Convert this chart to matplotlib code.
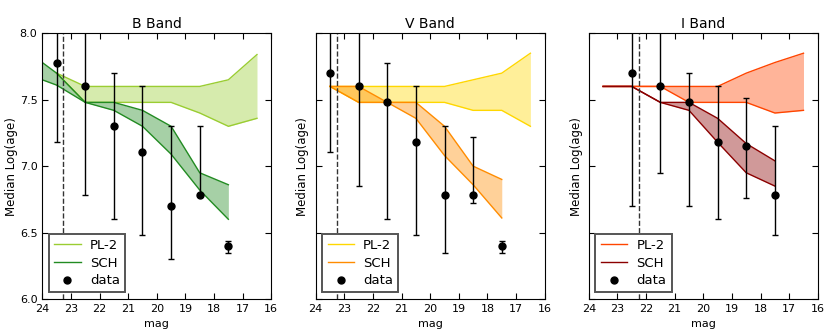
# -*- coding: utf-8 -*-
import matplotlib
matplotlib.use("Agg")
import matplotlib.pyplot as plt
import numpy as np

# magnitude bins
pl_x = [23.5, 22.5, 21.5, 20.5, 19.5, 18.5, 17.5, 16.5]
sch_x_b = [24.5, 23.5, 22.5, 21.5, 20.5, 19.5, 18.5, 17.5]
sch_x = [23.5, 22.5, 21.5, 20.5, 19.5, 18.5, 17.5]
data_x = [23.5, 22.5, 21.5, 20.5, 19.5, 18.5, 17.5]
data_x_i = [22.5, 21.5, 20.5, 19.5, 18.5, 17.5]

# B band
b_pl_hi = [7.70, 7.60, 7.60, 7.60, 7.60, 7.60, 7.65, 7.84]
b_pl_lo = [7.70, 7.48, 7.48, 7.48, 7.48, 7.40, 7.30, 7.36]
b_sch_hi = [7.86, 7.70, 7.48, 7.48, 7.42, 7.30, 6.95, 6.86]
b_sch_lo = [7.69, 7.61, 7.48, 7.42, 7.30, 7.09, 6.82, 6.60]
b_med = [7.78, 7.60, 7.30, 7.11, 6.70, 6.78, 6.40]
b_up = [8.38, 8.42, 7.70, 7.60, 7.30, 7.30, 6.44]
b_dn = [7.18, 6.78, 6.60, 6.48, 6.30, 6.78, 6.35]

# V band
v_pl_hi = [7.60, 7.60, 7.60, 7.60, 7.60, 7.65, 7.70, 7.85]
v_pl_lo = [7.60, 7.48, 7.48, 7.48, 7.48, 7.42, 7.42, 7.30]
v_sch_hi = [7.60, 7.60, 7.48, 7.48, 7.30, 7.00, 6.90]
v_sch_lo = [7.60, 7.48, 7.48, 7.36, 7.08, 6.86, 6.61]
v_med = [7.70, 7.60, 7.48, 7.18, 6.78, 6.78, 6.40]
v_up = [8.30, 8.40, 7.78, 7.60, 7.30, 7.22, 6.44]
v_dn = [7.11, 6.85, 6.60, 6.48, 6.35, 6.72, 6.35]

# I band
i_pl_hi = [7.60, 7.60, 7.60, 7.60, 7.60, 7.70, 7.78, 7.85]
i_pl_lo = [7.60, 7.60, 7.60, 7.48, 7.48, 7.48, 7.40, 7.42]
i_sch_hi = [7.60, 7.60, 7.48, 7.48, 7.36, 7.17, 7.04]
i_sch_lo = [7.60, 7.60, 7.48, 7.42, 7.18, 6.95, 6.85]
i_med = [7.70, 7.60, 7.48, 7.18, 7.15, 6.78]
i_up = [8.30, 8.40, 7.70, 7.60, 7.51, 7.30]
i_dn = [6.70, 6.95, 6.70, 6.60, 6.76, 6.48]

# completeness limits
mag_lim = [23.27, 23.27, 22.25]

plt.rcParams["xtick.direction"] = "in"
plt.rcParams["ytick.direction"] = "in"
plt.rcParams["xtick.top"] = True
plt.rcParams["ytick.right"] = True
plt.rcParams["xtick.major.size"] = 4
plt.rcParams["ytick.major.size"] = 4


def plot_band(ax, title, pl, sch, data, lim, colors, show_yticks):
    """
    Function to draw the model bands and median ages for one filter.
    """
    px, phi, plo = pl
    sx, shi, slo = sch
    dx, med, up, dn = data
    pcol, scol = colors

    ax.fill_between(px, plo, phi, color=pcol, alpha=0.4, lw=0)
    ax.plot(px, phi, color=pcol, lw=1, label="PL-2")
    ax.plot(px, plo, color=pcol, lw=1)

    ax.fill_between(sx, slo, shi, color=scol, alpha=0.4, lw=0)
    ax.plot(sx, shi, color=scol, lw=1, label="SCH")
    ax.plot(sx, slo, color=scol, lw=1)

    med = np.array(med)
    yerr = [med - np.array(dn), np.array(up) - med]
    ax.errorbar(dx, med, yerr=yerr, fmt="none", ecolor="k",
                elinewidth=1, capsize=2.5)
    ax.plot(dx, med, "o", color="k", ms=5, label="data")

    ax.axvline(lim, color="#333333", ls="--", lw=1)

    ax.set_xlim(24, 16)
    ax.set_ylim(6.0, 8.0)
    ax.set_xticks(np.arange(24, 15, -1))
    ax.set_yticks([6.0, 6.5, 7.0, 7.5, 8.0])
    ax.tick_params(labelsize=8)
    if not show_yticks:
        ax.set_yticklabels([])
    ax.set_xlabel("mag", fontsize=8)
    ax.set_ylabel("Median Log(age)", fontsize=8.5, labelpad=1)
    ax.set_title(title, fontsize=10, pad=4)
    leg = ax.legend(loc="lower left", fontsize=9.5, numpoints=1,
                    fancybox=False, framealpha=1, handlelength=2.0,
                    handletextpad=0.7, labelspacing=0.35,
                    borderaxespad=0.5)
    leg.get_frame().set_edgecolor("#555555")
    leg.get_frame().set_linewidth(1.4)
    return


fig = plt.figure(figsize=(8.3, 3.33), dpi=100)
lefts = [42.3 / 830, 315.7 / 830, 588.8 / 830]
axes = [fig.add_axes([l, 34 / 333, 229 / 830, 265.7 / 333]) for l in lefts]

plot_band(axes[0], "B Band", (pl_x, b_pl_hi, b_pl_lo),
          (sch_x_b, b_sch_hi, b_sch_lo), (data_x, b_med, b_up, b_dn),
          mag_lim[0], ("yellowgreen", "forestgreen"), True)
plot_band(axes[1], "V Band", (pl_x, v_pl_hi, v_pl_lo),
          (sch_x, v_sch_hi, v_sch_lo), (data_x, v_med, v_up, v_dn),
          mag_lim[1], ("gold", "darkorange"), False)
plot_band(axes[2], "I Band", (pl_x, i_pl_hi, i_pl_lo),
          (sch_x, i_sch_hi, i_sch_lo), (data_x_i, i_med, i_up, i_dn),
          mag_lim[2], ("orangered", "darkred"), False)

plt.savefig("out.png", dpi=100)
